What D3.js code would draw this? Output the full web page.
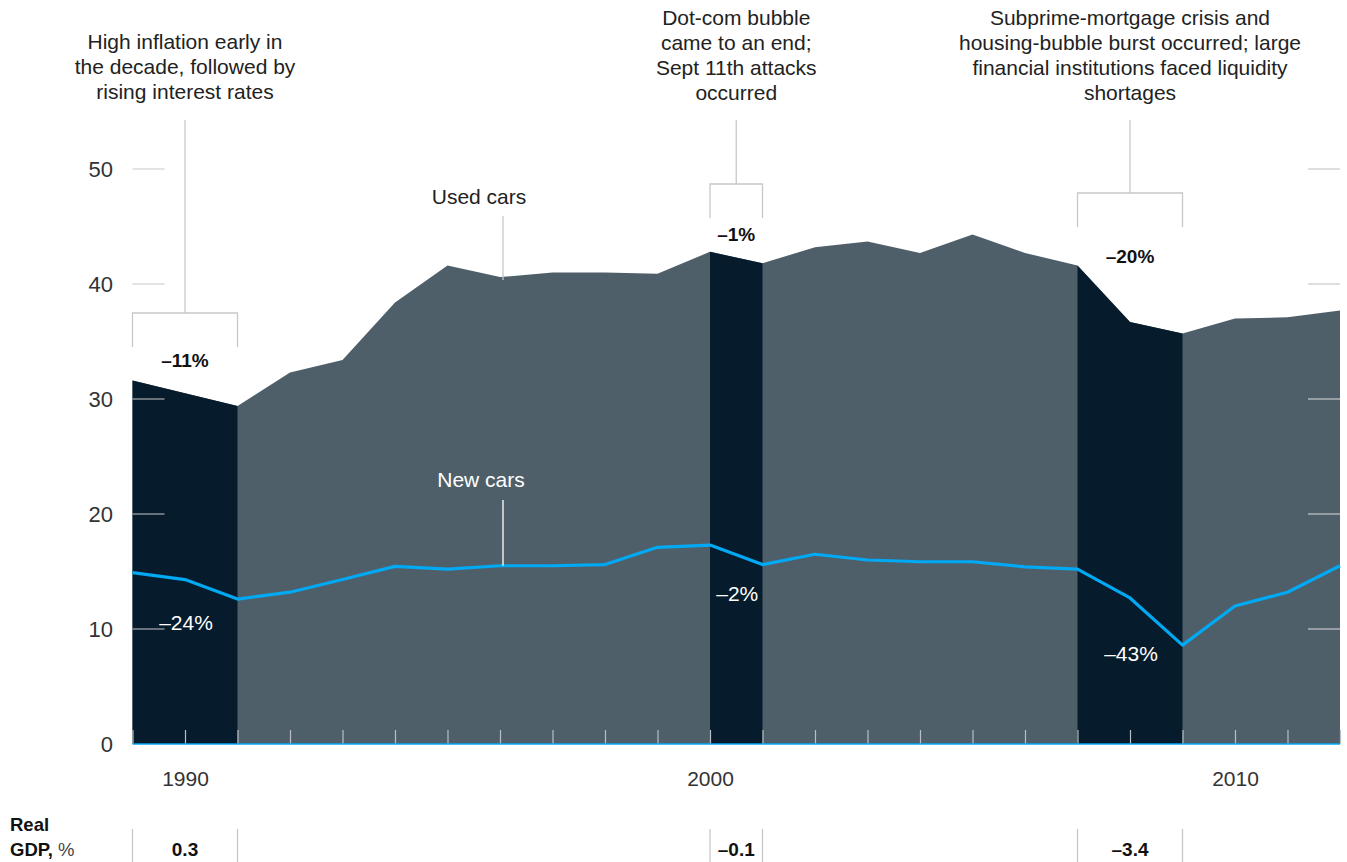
<!DOCTYPE html>
<html>
<head>
<meta charset="utf-8">
<script src="https://cdn.jsdelivr.net/npm/d3@7"></script>
<style>
  body { margin: 0; background: #fff; }
  text { font-family: "Liberation Sans", Arial, sans-serif; }
</style>
</head>
<body>
<svg id="chart" width="1347" height="862"></svg>
<script>
// data
var years = [1989, 1990, 1991, 1992, 1993, 1994, 1995, 1996, 1997, 1998, 1999, 2000,
             2001, 2002, 2003, 2004, 2005, 2006, 2007, 2008, 2009, 2010, 2011, 2012];
var usedCars = [31.6, 30.5, 29.4, 32.3, 33.4, 38.4, 41.6, 40.6, 41.0, 41.0, 40.9, 42.8,
                41.8, 43.2, 43.7, 42.7, 44.3, 42.7, 41.6, 36.7, 35.7, 37.0, 37.1, 37.7];
var newCars = [14.9, 14.3, 12.6, 13.2, 14.3, 15.45, 15.2, 15.5, 15.5, 15.6, 17.1, 17.3,
               15.6, 16.5, 16.0, 15.85, 15.85, 15.4, 15.2, 12.7, 8.6, 12.0, 13.2, 15.5];
var recessionStart = [1989, 2000, 2007];
var recessionEnd = [1991, 2001, 2009];
var usedChange = ["–11%", "–1%", "–20%"];
var newChange = ["–24%", "–2%", "–43%"];
var gdpChange = ["0.3", "–0.1", "–3.4"];
var eventNotes = [
  ["High inflation early in", "the decade, followed by", "rising interest rates"],
  ["Dot-com bubble", "came to an end;", "Sept 11th attacks", "occurred"],
  ["Subprime-mortgage crisis and", "housing-bubble burst occurred; large", "financial institutions faced liquidity", "shortages"]
];
var yTicks = [0, 10, 20, 30, 40, 50];
var xLabels = [1990, 2000, 2010];

var GRAY = "#4f5f6a", DARK = "#061c2c", BLUE = "#00a9f4", RULE = "#c8c8c8";
var FONT = "Liberation Sans, Arial, sans-serif";

var svg = d3.select("#chart");
var x = d3.scaleLinear().domain([1989, 2012]).range([132.5, 1340]);
var y = d3.scaleLinear().domain([0, 50]).range([744, 169]);

var rows = years.map(function (yr, i) {
  return {year: yr, used: usedCars[i], nw: newCars[i]};
});

var area = d3.area()
  .x(function (d) { return x(d.year); })
  .y0(y(0))
  .y1(function (d) { return y(d.used); });

svg.append("path")
  .attr("d", area(rows))
  .attr("fill", GRAY);

recessionStart.forEach(function (s, i) {
  var part = rows.filter(function (d) { return d.year >= s && d.year <= recessionEnd[i]; });
  svg.append("path")
    .attr("d", area(part))
    .attr("fill", DARK);
});

// short grid marks at both edges
yTicks.filter(function (t) { return t > 0; }).forEach(function (t) {
  [[x(1989), x(1989) + 32], [x(2012) - 32, x(2012)]].forEach(function (seg) {
    svg.append("line")
      .attr("x1", seg[0]).attr("x2", seg[1])
      .attr("y1", y(t)).attr("y2", y(t))
      .attr("stroke", RULE).attr("stroke-width", 1.2);
  });
});

// year ticks inside the area
var tickAxis = d3.axisTop(x).tickValues(years).tickSize(14).tickFormat("");
var tg = svg.append("g").attr("transform", "translate(0," + y(0) + ")").call(tickAxis);
tg.select(".domain").remove();
tg.selectAll(".tick line").attr("stroke", "#b8bec4").attr("stroke-width", 1.2);

// baseline
svg.append("line")
  .attr("x1", x(1989)).attr("x2", x(2012))
  .attr("y1", y(0)).attr("y2", y(0))
  .attr("stroke", BLUE).attr("stroke-width", 1.5);

// new cars line
var line = d3.line()
  .x(function (d) { return x(d.year); })
  .y(function (d) { return y(d.nw); });

svg.append("path")
  .attr("d", line(rows))
  .attr("fill", "none")
  .attr("stroke", BLUE)
  .attr("stroke-width", 3.2)
  .attr("stroke-linejoin", "round");

// y axis labels
var yAxis = d3.axisLeft(y).tickValues(yTicks).tickSize(0).tickPadding(0);
var yg = svg.append("g").attr("transform", "translate(113,0)").call(yAxis);
yg.select(".domain").remove();
yg.selectAll("text")
  .style("font-family", FONT)
  .attr("font-size", 22).attr("fill", "#333");

// x axis labels
var xAxis = d3.axisBottom(x).tickValues(xLabels).tickSize(0).tickPadding(0).tickFormat(d3.format("d"));
var xg = svg.append("g").attr("transform", "translate(0,771)").call(xAxis);
xg.select(".domain").remove();
xg.selectAll("text")
  .style("font-family", FONT)
  .attr("font-size", 21).attr("fill", "#333");

// event annotations with brackets
var noteTop = [41, 17, 17];
var bracketY = [313, 184, 193];
var usedLabelY = [367, 241, 263];
var newLabelY = [630, 601, 661];

recessionStart.forEach(function (s, i) {
  var x0 = x(s), x1 = x(recessionEnd[i]), xm = (x0 + x1) / 2;
  var t = svg.append("text")
    .attr("text-anchor", "middle")
    .attr("font-size", 21).attr("fill", "#222");
  eventNotes[i].forEach(function (ln, j) {
    t.append("tspan").attr("x", xm).attr("y", noteTop[i] + 7.5 + j * 25).text(ln);
  });
  svg.append("path")
    .attr("d", "M" + xm + ",120V" + bracketY[i] + "M" + x0 + "," + (bracketY[i] + 34) +
      "V" + bracketY[i] + "H" + x1 + "V" + (bracketY[i] + 34))
    .attr("fill", "none").attr("stroke", RULE).attr("stroke-width", 1.3);
  svg.append("text")
    .attr("x", xm).attr("y", usedLabelY[i])
    .attr("text-anchor", "middle")
    .attr("font-size", 19).attr("font-weight", "bold").attr("fill", "#111")
    .text(usedChange[i]);
  svg.append("text")
    .attr("x", xm + 1).attr("y", newLabelY[i])
    .attr("text-anchor", "middle")
    .attr("font-size", 21).attr("fill", "#fff")
    .text(newChange[i]);
  // GDP row
  [x0, x1].forEach(function (xx) {
    svg.append("line")
      .attr("x1", xx).attr("x2", xx).attr("y1", 829).attr("y2", 862)
      .attr("stroke", RULE).attr("stroke-width", 1.3);
  });
  svg.append("text")
    .attr("x", xm).attr("y", 856)
    .attr("text-anchor", "middle")
    .attr("font-size", 19).attr("font-weight", "bold").attr("fill", "#111")
    .text(gdpChange[i]);
});

// series labels
svg.append("text").attr("x", 479).attr("y", 204)
  .attr("text-anchor", "middle").attr("font-size", 21).attr("fill", "#222")
  .text("Used cars");
svg.append("line").attr("x1", 503).attr("x2", 503)
  .attr("y1", 216).attr("y2", y(usedCars[7]) + 3)
  .attr("stroke", RULE).attr("stroke-width", 1.3);

svg.append("text").attr("x", 481).attr("y", 487)
  .attr("text-anchor", "middle").attr("font-size", 21).attr("fill", "#fff")
  .text("New cars");
svg.append("line").attr("x1", 503).attr("x2", 503)
  .attr("y1", 500).attr("y2", y(newCars[7]))
  .attr("stroke", "#fff").attr("stroke-width", 1.3);

// GDP row label
svg.append("text").attr("x", 10).attr("y", 831)
  .attr("font-size", 18.5).attr("font-weight", "bold").attr("fill", "#111")
  .text("Real");
var g2 = svg.append("text").attr("x", 10).attr("y", 856)
  .attr("font-size", 18.5).attr("fill", "#111");
g2.append("tspan").attr("font-weight", "bold").text("GDP,");
g2.append("tspan").attr("fill", "#444").text(" %");
</script>
</body>
</html>
